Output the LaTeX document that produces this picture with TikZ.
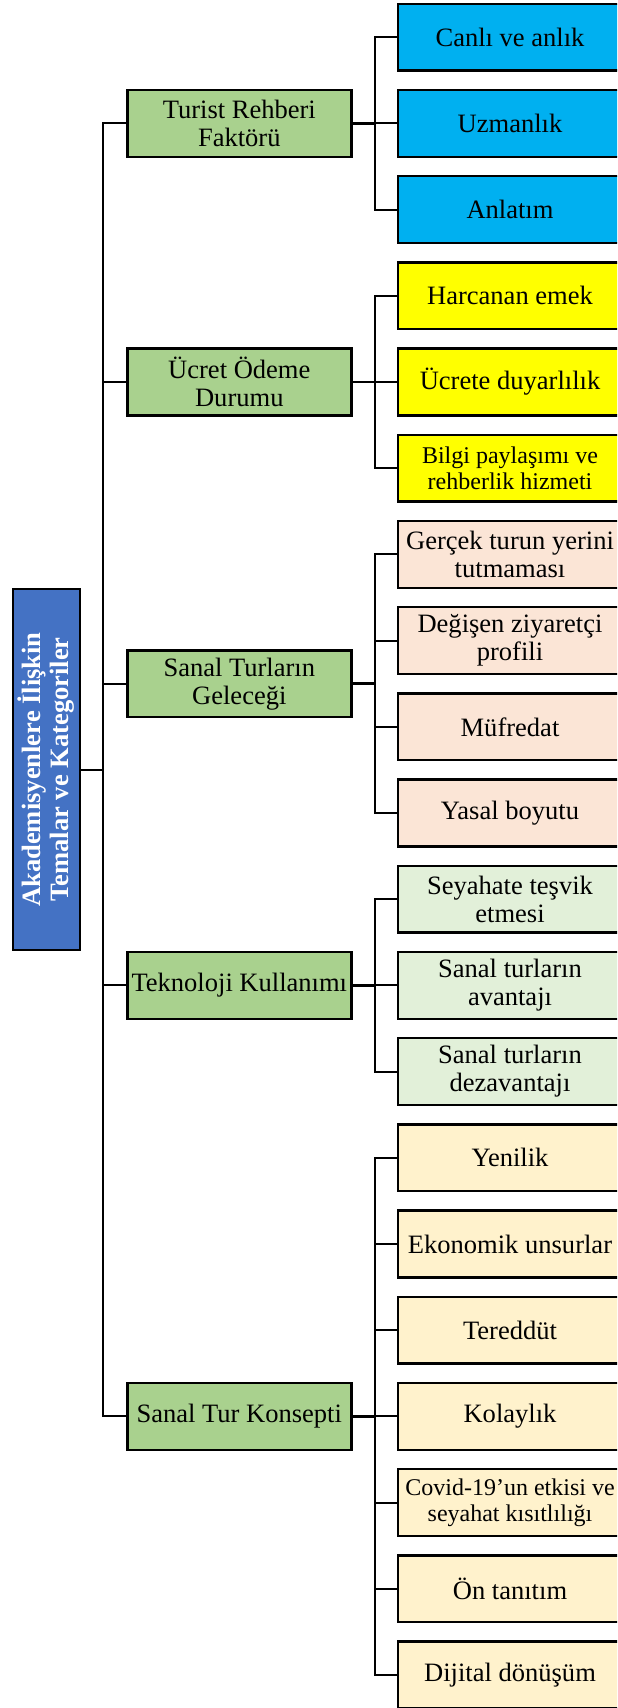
\documentclass[tikz,border=0pt]{standalone}
\usepackage{fontspec}
\setmainfont{Liberation Serif}
\definecolor{rootblue}{HTML}{4472C4}
\definecolor{themegreen}{HTML}{A9D18E}
\definecolor{catblue}{HTML}{00B0F0}
\definecolor{catyellow}{HTML}{FFFF00}
\definecolor{catpeach}{HTML}{FBE5D6}
\definecolor{catgreen}{HTML}{E2F0D9}
\definecolor{catcream}{HTML}{FFF2CC}
\begin{document}
\begin{tikzpicture}[x=0.75pt,y=-0.75pt,
  boxbase/.style={draw=black, line width=1.8pt, inner sep=0pt, align=center,
    minimum width=168pt, minimum height=50pt,
    font=\fontsize{19.9}{21}\selectfont},
  theme/.style={boxbase, fill=themegreen},
  cat/.style={boxbase},
  small/.style={font=\fontsize{18}{19.5}\selectfont},
  rootbox/.style={draw=black, line width=1.8pt, fill=rootblue, inner sep=0pt,
    align=center, rotate=90, minimum width=270.5pt, minimum height=50.2pt,
    text=white, font=\fontsize{19.9}{21}\selectfont\bfseries},
  link/.style={draw=black, line width=1.5pt},
  thick link/.style={draw=black, line width=2.1pt}]
\useasboundingbox (0,0) rectangle (617,1708);
\clip (0,0) rectangle (617,1708);

% spine positions
\coordinate (lsp) at (103.3,0);
\coordinate (rsp) at (374.7,0);

% root
\node[rootbox] (root) at (46.3,769.5) {Akademisyenlere İlişkin\\Temalar ve Kategoriler};

% themes
\node[theme] (g1) at (239.3,123.4) {Turist Rehberi\\Faktörü};
\node[theme] (g2) at (239.3,382.0) {Ücret Ödeme\\Durumu};
\node[theme] (g3) at (239.3,683.7) {Sanal Turların\\Geleceği};
\node[theme] (g4) at (239.3,985.4) {Teknoloji Kullanımı};
\node[theme] (g5) at (239.3,1416.4) {Sanal Tur Konsepti};

% categories
\node[cat, fill=catblue] (l0) at (510,37.2) {Canlı ve anlık};
\node[cat, fill=catblue] (l1) at (510,123.4) {Uzmanlık};
\node[cat, fill=catblue] (l2) at (510,209.6) {Anlatım};
\node[cat, fill=catyellow] (l3) at (510,295.8) {Harcanan emek};
\node[cat, fill=catyellow] (l4) at (510,382.0) {Ücrete duyarlılık};
\node[cat, fill=catyellow, small] (l5) at (510,468.2) {Bilgi paylaşımı ve\\rehberlik hizmeti};
\node[cat, fill=catpeach] (l6) at (510,554.4) {Gerçek turun yerini\\tutmaması};
\node[cat, fill=catpeach] (l7) at (510,640.6) {Değişen ziyaretçi\\profili};
\node[cat, fill=catpeach] (l8) at (510,726.8) {Müfredat};
\node[cat, fill=catpeach] (l9) at (510,813.0) {Yasal boyutu};
\node[cat, fill=catgreen] (l10) at (510,899.2) {Seyahate teşvik\\etmesi};
\node[cat, fill=catgreen] (l11) at (510,985.4) {Sanal turların\\avantajı};
\node[cat, fill=catgreen] (l12) at (510,1071.6) {Sanal turların\\dezavantajı};
\node[cat, fill=catcream] (l13) at (510,1157.8) {Yenilik};
\node[cat, fill=catcream] (l14) at (510,1244.0) {Ekonomik unsurlar};
\node[cat, fill=catcream] (l15) at (510,1330.2) {Tereddüt};
\node[cat, fill=catcream] (l16) at (510,1416.4) {Kolaylık};
\node[cat, fill=catcream, small] (l17) at (510,1502.6) {Covid-19’un etkisi ve\\seyahat kısıtlılığı};
\node[cat, fill=catcream] (l18) at (510,1588.8) {Ön tanıtım};
\node[cat, fill=catcream] (l19) at (510,1675.0) {Dijital dönüşüm};

% root to themes
\draw[link] (root.south) -- (root.south -| lsp);
\draw[link] (g1.west) -- (g1.west -| lsp) -- (g5.west -| lsp) -- (g5.west);
\foreach \g in {g2,g3,g4}
  \draw[link] (\g.west) -- (\g.west -| lsp);

% themes to categories
\foreach \g in {g1,g2,g3,g4,g5}
  \draw[thick link] (\g.east) -- (\g.east -| rsp);
\draw[link] (l0.west) -- (l0.west -| rsp) -- (l2.west -| rsp) -- (l2.west);
\draw[link] (l3.west) -- (l3.west -| rsp) -- (l5.west -| rsp) -- (l5.west);
\draw[link] (l6.west) -- (l6.west -| rsp) -- (l9.west -| rsp) -- (l9.west);
\draw[link] (l10.west) -- (l10.west -| rsp) -- (l12.west -| rsp) -- (l12.west);
\draw[link] (l13.west) -- (l13.west -| rsp) -- (l19.west -| rsp) -- (l19.west);
\foreach \l in {l1,l4,l7,l8,l11,l14,l15,l16,l17,l18}
  \draw[link] (\l.west) -- (\l.west -| rsp);
\end{tikzpicture}
\end{document}
